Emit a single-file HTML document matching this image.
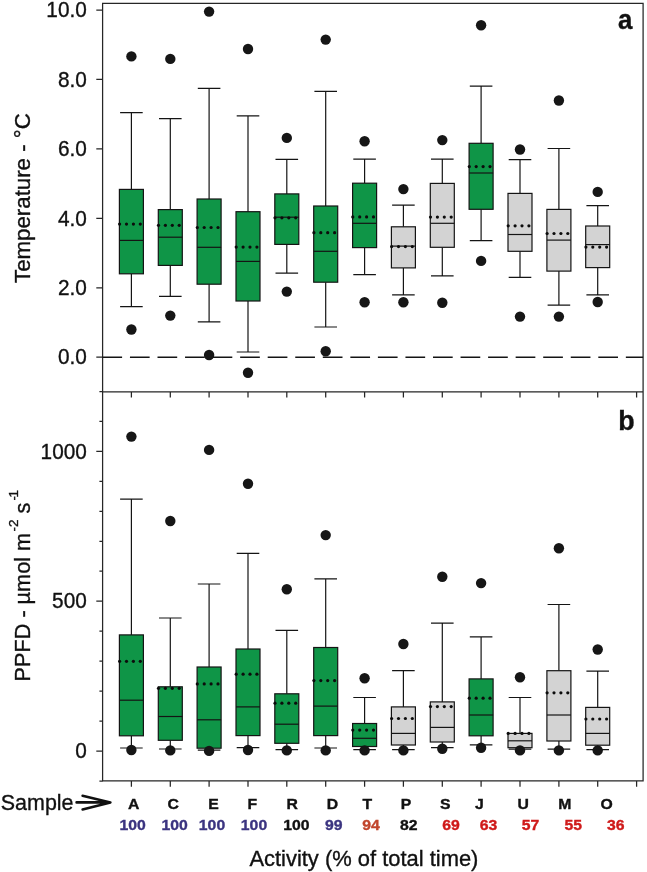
<!DOCTYPE html>
<html><head><meta charset="utf-8"><title>Figure</title>
<style>html,body{margin:0;padding:0;background:#fff}svg{display:block}text{font-family:"Liberation Sans",Arial,Helvetica,sans-serif}</style>
</head><body>
<div style="will-change:transform;width:647px;height:872px"><svg width="647" height="872" viewBox="0 0 647 872">
<rect width="647" height="872" fill="#fff"/>
<g>
<path d="M102.6 3.3H643.1V780.9H102.6Z M102.6 391.9H643.1" stroke="#262626" stroke-width="1.25" fill="none"/>
<path d="M131.4 391.9v5.6M131.4 780.9v5.8M170.3 391.9v5.6M170.3 780.9v5.8M209.1 391.9v5.6M209.1 780.9v5.8M248.0 391.9v5.6M248.0 780.9v5.8M286.8 391.9v5.6M286.8 780.9v5.8M325.7 391.9v5.6M325.7 780.9v5.8M364.6 391.9v5.6M364.6 780.9v5.8M403.4 391.9v5.6M403.4 780.9v5.8M442.3 391.9v5.6M442.3 780.9v5.8M481.1 391.9v5.6M481.1 780.9v5.8M520.0 391.9v5.6M520.0 780.9v5.8M558.9 391.9v5.6M558.9 780.9v5.8M597.7 391.9v5.6M597.7 780.9v5.8M636.6 391.9v5.6M636.6 780.9v5.8M102.6 10.0h-6.3M102.6 79.4h-6.3M102.6 148.9h-6.3M102.6 218.3h-6.3M102.6 287.8h-6.3M102.6 357.2h-6.3M102.6 781.0h-3.2M102.6 751.0h-6.3M102.6 721.0h-3.2M102.6 691.1h-3.2M102.6 661.1h-3.2M102.6 631.2h-3.2M102.6 601.2h-6.3M102.6 571.2h-3.2M102.6 541.3h-3.2M102.6 511.3h-3.2M102.6 481.4h-3.2M102.6 451.4h-6.3M102.6 421.4h-3.2M102.6 391.5h-3.2" stroke="#262626" stroke-width="1.25" fill="none"/>
<path d="M102.39999999999999 357.2H643.1" stroke="#141414" stroke-width="1.45" stroke-dasharray="19.7 7.85" fill="none"/>
<path d="M76.6 802.4H109.5M82.6 795.7L110.4 802.4L82.6 809.5" stroke="#111" stroke-width="2.6" stroke-linecap="round" stroke-linejoin="round" fill="none"/>
</g>
<g>
<path d="M120.1 112.6H142.7M131.4 112.6V189.4M131.4 273.8V306.7M120.1 306.7H142.7" stroke="#141414" stroke-width="1.2" fill="none"/>
<rect x="119.4" y="189.4" width="24.0" height="84.4" fill="#0f9547" stroke="#141414" stroke-width="1.2"/>
<path d="M119.4 240.4H143.4" stroke="#141414" stroke-width="1.2"/>
<circle cx="119.6" cy="224.1" r="1.6" fill="#0c0c0c"/>
<circle cx="126.5" cy="224.1" r="1.6" fill="#0c0c0c"/>
<circle cx="133.4" cy="224.1" r="1.6" fill="#0c0c0c"/>
<circle cx="140.3" cy="224.1" r="1.6" fill="#0c0c0c"/>
<circle cx="131.4" cy="56.4" r="5.2" fill="#161616"/>
<circle cx="131.4" cy="329.5" r="5.2" fill="#161616"/>
<path d="M120.1 499.2H142.7M131.4 499.2V634.9M131.4 735.8V748.0M120.1 748.0H142.7" stroke="#141414" stroke-width="1.2" fill="none"/>
<rect x="119.4" y="634.9" width="24.0" height="100.9" fill="#0f9547" stroke="#141414" stroke-width="1.2"/>
<path d="M119.4 700.2H143.4" stroke="#141414" stroke-width="1.2"/>
<circle cx="119.6" cy="661.3" r="1.6" fill="#0c0c0c"/>
<circle cx="126.5" cy="661.3" r="1.6" fill="#0c0c0c"/>
<circle cx="133.4" cy="661.3" r="1.6" fill="#0c0c0c"/>
<circle cx="140.3" cy="661.3" r="1.6" fill="#0c0c0c"/>
<circle cx="131.4" cy="436.6" r="5.2" fill="#161616"/>
<circle cx="131.4" cy="750.0" r="5.2" fill="#161616"/>
<path d="M159.0 118.6H181.6M170.3 118.6V209.6M170.3 265.4V296.3M159.0 296.3H181.6" stroke="#141414" stroke-width="1.2" fill="none"/>
<rect x="158.3" y="209.6" width="24.0" height="55.8" fill="#0f9547" stroke="#141414" stroke-width="1.2"/>
<path d="M158.3 237.2H182.3" stroke="#141414" stroke-width="1.2"/>
<circle cx="158.5" cy="225.3" r="1.6" fill="#0c0c0c"/>
<circle cx="165.4" cy="225.3" r="1.6" fill="#0c0c0c"/>
<circle cx="172.3" cy="225.3" r="1.6" fill="#0c0c0c"/>
<circle cx="179.2" cy="225.3" r="1.6" fill="#0c0c0c"/>
<circle cx="170.3" cy="58.9" r="5.2" fill="#161616"/>
<circle cx="170.3" cy="315.6" r="5.2" fill="#161616"/>
<path d="M159.0 618.0H181.6M170.3 618.0V686.8M170.3 740.3V749.0M159.0 749.0H181.6" stroke="#141414" stroke-width="1.2" fill="none"/>
<rect x="158.3" y="686.8" width="24.0" height="53.5" fill="#0f9547" stroke="#141414" stroke-width="1.2"/>
<path d="M158.3 716.5H182.3" stroke="#141414" stroke-width="1.2"/>
<circle cx="158.5" cy="688.3" r="1.6" fill="#0c0c0c"/>
<circle cx="165.4" cy="688.3" r="1.6" fill="#0c0c0c"/>
<circle cx="172.3" cy="688.3" r="1.6" fill="#0c0c0c"/>
<circle cx="179.2" cy="688.3" r="1.6" fill="#0c0c0c"/>
<circle cx="170.3" cy="521.0" r="5.2" fill="#161616"/>
<circle cx="170.3" cy="750.4" r="5.2" fill="#161616"/>
<path d="M197.8 88.4H220.4M209.1 88.4V199.0M209.1 284.2V321.8M197.8 321.8H220.4" stroke="#141414" stroke-width="1.2" fill="none"/>
<rect x="197.1" y="199.0" width="24.0" height="85.2" fill="#0f9547" stroke="#141414" stroke-width="1.2"/>
<path d="M197.1 247.3H221.1" stroke="#141414" stroke-width="1.2"/>
<circle cx="197.3" cy="227.5" r="1.6" fill="#0c0c0c"/>
<circle cx="204.2" cy="227.5" r="1.6" fill="#0c0c0c"/>
<circle cx="211.1" cy="227.5" r="1.6" fill="#0c0c0c"/>
<circle cx="218.0" cy="227.5" r="1.6" fill="#0c0c0c"/>
<circle cx="209.1" cy="11.6" r="5.2" fill="#161616"/>
<circle cx="209.1" cy="355.0" r="5.2" fill="#161616"/>
<path d="M197.8 584.0H220.4M209.1 584.0V667.0M209.1 748.2V750.2M197.8 750.2H220.4" stroke="#141414" stroke-width="1.2" fill="none"/>
<rect x="197.1" y="667.0" width="24.0" height="81.2" fill="#0f9547" stroke="#141414" stroke-width="1.2"/>
<path d="M197.1 719.8H221.1" stroke="#141414" stroke-width="1.2"/>
<circle cx="197.3" cy="683.9" r="1.6" fill="#0c0c0c"/>
<circle cx="204.2" cy="683.9" r="1.6" fill="#0c0c0c"/>
<circle cx="211.1" cy="683.9" r="1.6" fill="#0c0c0c"/>
<circle cx="218.0" cy="683.9" r="1.6" fill="#0c0c0c"/>
<circle cx="209.1" cy="449.9" r="5.2" fill="#161616"/>
<circle cx="209.1" cy="750.9" r="5.2" fill="#161616"/>
<path d="M236.7 115.8H259.3M248.0 115.8V211.7M248.0 301.0V352.0M236.7 352.0H259.3" stroke="#141414" stroke-width="1.2" fill="none"/>
<rect x="236.0" y="211.7" width="24.0" height="89.3" fill="#0f9547" stroke="#141414" stroke-width="1.2"/>
<path d="M236.0 261.4H260.0" stroke="#141414" stroke-width="1.2"/>
<circle cx="236.2" cy="247.1" r="1.6" fill="#0c0c0c"/>
<circle cx="243.1" cy="247.1" r="1.6" fill="#0c0c0c"/>
<circle cx="250.0" cy="247.1" r="1.6" fill="#0c0c0c"/>
<circle cx="256.9" cy="247.1" r="1.6" fill="#0c0c0c"/>
<circle cx="248.0" cy="49.0" r="5.2" fill="#161616"/>
<circle cx="248.0" cy="372.8" r="5.2" fill="#161616"/>
<path d="M236.7 553.4H259.3M248.0 553.4V649.0M248.0 735.6V747.7M236.7 747.7H259.3" stroke="#141414" stroke-width="1.2" fill="none"/>
<rect x="236.0" y="649.0" width="24.0" height="86.6" fill="#0f9547" stroke="#141414" stroke-width="1.2"/>
<path d="M236.0 706.9H260.0" stroke="#141414" stroke-width="1.2"/>
<circle cx="236.2" cy="674.2" r="1.6" fill="#0c0c0c"/>
<circle cx="243.1" cy="674.2" r="1.6" fill="#0c0c0c"/>
<circle cx="250.0" cy="674.2" r="1.6" fill="#0c0c0c"/>
<circle cx="256.9" cy="674.2" r="1.6" fill="#0c0c0c"/>
<circle cx="248.0" cy="483.8" r="5.2" fill="#161616"/>
<circle cx="248.0" cy="750.0" r="5.2" fill="#161616"/>
<path d="M275.5 159.4H298.1M286.8 159.4V193.9M286.8 244.4V273.1M275.5 273.1H298.1" stroke="#141414" stroke-width="1.2" fill="none"/>
<rect x="274.8" y="193.9" width="24.0" height="50.5" fill="#0f9547" stroke="#141414" stroke-width="1.2"/>
<path d="M274.8 217.2H298.8" stroke="#141414" stroke-width="1.2"/>
<circle cx="275.0" cy="217.8" r="1.6" fill="#0c0c0c"/>
<circle cx="281.9" cy="217.8" r="1.6" fill="#0c0c0c"/>
<circle cx="288.8" cy="217.8" r="1.6" fill="#0c0c0c"/>
<circle cx="295.7" cy="217.8" r="1.6" fill="#0c0c0c"/>
<circle cx="286.8" cy="137.9" r="5.2" fill="#161616"/>
<circle cx="286.8" cy="291.6" r="5.2" fill="#161616"/>
<path d="M275.5 630.4H298.1M286.8 630.4V693.8M286.8 743.3V749.7M275.5 749.7H298.1" stroke="#141414" stroke-width="1.2" fill="none"/>
<rect x="274.8" y="693.8" width="24.0" height="49.5" fill="#0f9547" stroke="#141414" stroke-width="1.2"/>
<path d="M274.8 724.2H298.8" stroke="#141414" stroke-width="1.2"/>
<circle cx="275.0" cy="703.2" r="1.6" fill="#0c0c0c"/>
<circle cx="281.9" cy="703.2" r="1.6" fill="#0c0c0c"/>
<circle cx="288.8" cy="703.2" r="1.6" fill="#0c0c0c"/>
<circle cx="295.7" cy="703.2" r="1.6" fill="#0c0c0c"/>
<circle cx="286.8" cy="589.2" r="5.2" fill="#161616"/>
<circle cx="286.8" cy="750.4" r="5.2" fill="#161616"/>
<path d="M314.4 91.3H337.0M325.7 91.3V206.0M325.7 282.2V327.0M314.4 327.0H337.0" stroke="#141414" stroke-width="1.2" fill="none"/>
<rect x="313.7" y="206.0" width="24.0" height="76.2" fill="#0f9547" stroke="#141414" stroke-width="1.2"/>
<path d="M313.7 251.3H337.7" stroke="#141414" stroke-width="1.2"/>
<circle cx="313.9" cy="232.7" r="1.6" fill="#0c0c0c"/>
<circle cx="320.8" cy="232.7" r="1.6" fill="#0c0c0c"/>
<circle cx="327.7" cy="232.7" r="1.6" fill="#0c0c0c"/>
<circle cx="334.6" cy="232.7" r="1.6" fill="#0c0c0c"/>
<circle cx="325.7" cy="39.6" r="5.2" fill="#161616"/>
<circle cx="325.7" cy="351.3" r="5.2" fill="#161616"/>
<path d="M314.4 578.9H337.0M325.7 578.9V647.5M325.7 735.6V748.0M314.4 748.0H337.0" stroke="#141414" stroke-width="1.2" fill="none"/>
<rect x="313.7" y="647.5" width="24.0" height="88.1" fill="#0f9547" stroke="#141414" stroke-width="1.2"/>
<path d="M313.7 706.1H337.7" stroke="#141414" stroke-width="1.2"/>
<circle cx="313.9" cy="680.6" r="1.6" fill="#0c0c0c"/>
<circle cx="320.8" cy="680.6" r="1.6" fill="#0c0c0c"/>
<circle cx="327.7" cy="680.6" r="1.6" fill="#0c0c0c"/>
<circle cx="334.6" cy="680.6" r="1.6" fill="#0c0c0c"/>
<circle cx="325.7" cy="535.1" r="5.2" fill="#161616"/>
<circle cx="325.7" cy="750.4" r="5.2" fill="#161616"/>
<path d="M353.3 159.2H375.9M364.6 159.2V183.2M364.6 247.6V274.6M353.3 274.6H375.9" stroke="#141414" stroke-width="1.2" fill="none"/>
<rect x="352.6" y="183.2" width="24.0" height="64.4" fill="#0f9547" stroke="#141414" stroke-width="1.2"/>
<path d="M352.6 223.3H376.6" stroke="#141414" stroke-width="1.2"/>
<circle cx="352.8" cy="216.9" r="1.6" fill="#0c0c0c"/>
<circle cx="359.7" cy="216.9" r="1.6" fill="#0c0c0c"/>
<circle cx="366.6" cy="216.9" r="1.6" fill="#0c0c0c"/>
<circle cx="373.5" cy="216.9" r="1.6" fill="#0c0c0c"/>
<circle cx="364.6" cy="141.3" r="5.2" fill="#161616"/>
<circle cx="364.6" cy="302.3" r="5.2" fill="#161616"/>
<path d="M353.3 697.5H375.9M364.6 697.5V723.5M364.6 746.5V749.7M353.3 749.7H375.9" stroke="#141414" stroke-width="1.2" fill="none"/>
<rect x="352.6" y="723.5" width="24.0" height="23.0" fill="#0f9547" stroke="#141414" stroke-width="1.2"/>
<path d="M352.6 738.3H376.6" stroke="#141414" stroke-width="1.2"/>
<circle cx="352.8" cy="730.1" r="1.6" fill="#0c0c0c"/>
<circle cx="359.7" cy="730.1" r="1.6" fill="#0c0c0c"/>
<circle cx="366.6" cy="730.1" r="1.6" fill="#0c0c0c"/>
<circle cx="373.5" cy="730.1" r="1.6" fill="#0c0c0c"/>
<circle cx="364.6" cy="678.2" r="5.2" fill="#161616"/>
<circle cx="364.6" cy="750.4" r="5.2" fill="#161616"/>
<path d="M392.1 205.2H414.7M403.4 205.2V226.8M403.4 267.9V294.9M392.1 294.9H414.7" stroke="#141414" stroke-width="1.2" fill="none"/>
<rect x="391.4" y="226.8" width="24.0" height="41.1" fill="#d3d3d3" stroke="#141414" stroke-width="1.2"/>
<path d="M391.4 246.1H415.4" stroke="#141414" stroke-width="1.2"/>
<circle cx="391.6" cy="246.6" r="1.6" fill="#0c0c0c"/>
<circle cx="398.5" cy="246.6" r="1.6" fill="#0c0c0c"/>
<circle cx="405.4" cy="246.6" r="1.6" fill="#0c0c0c"/>
<circle cx="412.3" cy="246.6" r="1.6" fill="#0c0c0c"/>
<circle cx="403.4" cy="189.1" r="5.2" fill="#161616"/>
<circle cx="403.4" cy="302.3" r="5.2" fill="#161616"/>
<path d="M392.1 670.7H414.7M403.4 670.7V706.9M403.4 745.0V749.7M392.1 749.7H414.7" stroke="#141414" stroke-width="1.2" fill="none"/>
<rect x="391.4" y="706.9" width="24.0" height="38.1" fill="#d3d3d3" stroke="#141414" stroke-width="1.2"/>
<path d="M391.4 733.4H415.4" stroke="#141414" stroke-width="1.2"/>
<circle cx="391.6" cy="718.5" r="1.6" fill="#0c0c0c"/>
<circle cx="398.5" cy="718.5" r="1.6" fill="#0c0c0c"/>
<circle cx="405.4" cy="718.5" r="1.6" fill="#0c0c0c"/>
<circle cx="412.3" cy="718.5" r="1.6" fill="#0c0c0c"/>
<circle cx="403.4" cy="644.0" r="5.2" fill="#161616"/>
<circle cx="403.4" cy="750.4" r="5.2" fill="#161616"/>
<path d="M431.0 159.2H453.6M442.3 159.2V183.4M442.3 247.3V275.8M431.0 275.8H453.6" stroke="#141414" stroke-width="1.2" fill="none"/>
<rect x="430.3" y="183.4" width="24.0" height="63.9" fill="#d3d3d3" stroke="#141414" stroke-width="1.2"/>
<path d="M430.3 223.3H454.3" stroke="#141414" stroke-width="1.2"/>
<circle cx="430.5" cy="217.1" r="1.6" fill="#0c0c0c"/>
<circle cx="437.4" cy="217.1" r="1.6" fill="#0c0c0c"/>
<circle cx="444.3" cy="217.1" r="1.6" fill="#0c0c0c"/>
<circle cx="451.2" cy="217.1" r="1.6" fill="#0c0c0c"/>
<circle cx="442.3" cy="140.1" r="5.2" fill="#161616"/>
<circle cx="442.3" cy="302.8" r="5.2" fill="#161616"/>
<path d="M431.0 623.2H453.6M442.3 623.2V701.9M442.3 742.0V747.7M431.0 747.7H453.6" stroke="#141414" stroke-width="1.2" fill="none"/>
<rect x="430.3" y="701.9" width="24.0" height="40.1" fill="#d3d3d3" stroke="#141414" stroke-width="1.2"/>
<path d="M430.3 727.4H454.3" stroke="#141414" stroke-width="1.2"/>
<circle cx="430.5" cy="706.6" r="1.6" fill="#0c0c0c"/>
<circle cx="437.4" cy="706.6" r="1.6" fill="#0c0c0c"/>
<circle cx="444.3" cy="706.6" r="1.6" fill="#0c0c0c"/>
<circle cx="451.2" cy="706.6" r="1.6" fill="#0c0c0c"/>
<circle cx="442.3" cy="576.7" r="5.2" fill="#161616"/>
<circle cx="442.3" cy="748.7" r="5.2" fill="#161616"/>
<path d="M469.8 86.1H492.4M481.1 86.1V143.3M481.1 209.3V240.7M469.8 240.7H492.4" stroke="#141414" stroke-width="1.2" fill="none"/>
<rect x="469.1" y="143.3" width="24.0" height="66.0" fill="#0f9547" stroke="#141414" stroke-width="1.2"/>
<path d="M469.1 173.0H493.1" stroke="#141414" stroke-width="1.2"/>
<circle cx="469.3" cy="166.6" r="1.6" fill="#0c0c0c"/>
<circle cx="476.2" cy="166.6" r="1.6" fill="#0c0c0c"/>
<circle cx="483.1" cy="166.6" r="1.6" fill="#0c0c0c"/>
<circle cx="490.0" cy="166.6" r="1.6" fill="#0c0c0c"/>
<circle cx="481.1" cy="25.2" r="5.2" fill="#161616"/>
<circle cx="481.1" cy="260.9" r="5.2" fill="#161616"/>
<path d="M469.8 636.8H492.4M481.1 636.8V678.9M481.1 735.8V744.8M469.8 744.8H492.4" stroke="#141414" stroke-width="1.2" fill="none"/>
<rect x="469.1" y="678.9" width="24.0" height="56.9" fill="#0f9547" stroke="#141414" stroke-width="1.2"/>
<path d="M469.1 715.0H493.1" stroke="#141414" stroke-width="1.2"/>
<circle cx="469.3" cy="698.2" r="1.6" fill="#0c0c0c"/>
<circle cx="476.2" cy="698.2" r="1.6" fill="#0c0c0c"/>
<circle cx="483.1" cy="698.2" r="1.6" fill="#0c0c0c"/>
<circle cx="490.0" cy="698.2" r="1.6" fill="#0c0c0c"/>
<circle cx="481.1" cy="583.1" r="5.2" fill="#161616"/>
<circle cx="481.1" cy="747.7" r="5.2" fill="#161616"/>
<path d="M508.7 159.7H531.3M520.0 159.7V193.4M520.0 251.3V277.3M508.7 277.3H531.3" stroke="#141414" stroke-width="1.2" fill="none"/>
<rect x="508.0" y="193.4" width="24.0" height="57.9" fill="#d3d3d3" stroke="#141414" stroke-width="1.2"/>
<path d="M508.0 234.5H532.0" stroke="#141414" stroke-width="1.2"/>
<circle cx="508.2" cy="225.8" r="1.6" fill="#0c0c0c"/>
<circle cx="515.1" cy="225.8" r="1.6" fill="#0c0c0c"/>
<circle cx="522.0" cy="225.8" r="1.6" fill="#0c0c0c"/>
<circle cx="528.9" cy="225.8" r="1.6" fill="#0c0c0c"/>
<circle cx="520.0" cy="149.5" r="5.2" fill="#161616"/>
<circle cx="520.0" cy="316.6" r="5.2" fill="#161616"/>
<path d="M508.7 697.5H531.3M520.0 697.5V733.4M520.0 747.7V749.2M508.7 749.2H531.3" stroke="#141414" stroke-width="1.2" fill="none"/>
<rect x="508.0" y="733.4" width="24.0" height="14.3" fill="#d3d3d3" stroke="#141414" stroke-width="1.2"/>
<path d="M508.0 740.8H532.0" stroke="#141414" stroke-width="1.2"/>
<circle cx="508.2" cy="733.4" r="1.6" fill="#0c0c0c"/>
<circle cx="515.1" cy="733.4" r="1.6" fill="#0c0c0c"/>
<circle cx="522.0" cy="733.4" r="1.6" fill="#0c0c0c"/>
<circle cx="528.9" cy="733.4" r="1.6" fill="#0c0c0c"/>
<circle cx="520.0" cy="677.2" r="5.2" fill="#161616"/>
<circle cx="520.0" cy="750.4" r="5.2" fill="#161616"/>
<path d="M547.6 148.5H570.2M558.9 148.5V209.4M558.9 271.1V305.2M547.6 305.2H570.2" stroke="#141414" stroke-width="1.2" fill="none"/>
<rect x="546.9" y="209.4" width="24.0" height="61.7" fill="#d3d3d3" stroke="#141414" stroke-width="1.2"/>
<path d="M546.9 240.1H570.9" stroke="#141414" stroke-width="1.2"/>
<circle cx="547.1" cy="233.5" r="1.6" fill="#0c0c0c"/>
<circle cx="554.0" cy="233.5" r="1.6" fill="#0c0c0c"/>
<circle cx="560.9" cy="233.5" r="1.6" fill="#0c0c0c"/>
<circle cx="567.8" cy="233.5" r="1.6" fill="#0c0c0c"/>
<circle cx="558.9" cy="100.5" r="5.2" fill="#161616"/>
<circle cx="558.9" cy="316.6" r="5.2" fill="#161616"/>
<path d="M547.6 604.5H570.2M558.9 604.5V670.7M558.9 741.0V749.2M547.6 749.2H570.2" stroke="#141414" stroke-width="1.2" fill="none"/>
<rect x="546.9" y="670.7" width="24.0" height="70.3" fill="#d3d3d3" stroke="#141414" stroke-width="1.2"/>
<path d="M546.9 715.0H570.9" stroke="#141414" stroke-width="1.2"/>
<circle cx="547.1" cy="692.8" r="1.6" fill="#0c0c0c"/>
<circle cx="554.0" cy="692.8" r="1.6" fill="#0c0c0c"/>
<circle cx="560.9" cy="692.8" r="1.6" fill="#0c0c0c"/>
<circle cx="567.8" cy="692.8" r="1.6" fill="#0c0c0c"/>
<circle cx="558.9" cy="548.2" r="5.2" fill="#161616"/>
<circle cx="558.9" cy="750.4" r="5.2" fill="#161616"/>
<path d="M586.4 205.7H609.0M597.7 205.7V226.0M597.7 267.6V294.9M586.4 294.9H609.0" stroke="#141414" stroke-width="1.2" fill="none"/>
<rect x="585.7" y="226.0" width="24.0" height="41.6" fill="#d3d3d3" stroke="#141414" stroke-width="1.2"/>
<path d="M585.7 244.6H609.7" stroke="#141414" stroke-width="1.2"/>
<circle cx="585.9" cy="247.1" r="1.6" fill="#0c0c0c"/>
<circle cx="592.8" cy="247.1" r="1.6" fill="#0c0c0c"/>
<circle cx="599.7" cy="247.1" r="1.6" fill="#0c0c0c"/>
<circle cx="606.6" cy="247.1" r="1.6" fill="#0c0c0c"/>
<circle cx="597.7" cy="191.9" r="5.2" fill="#161616"/>
<circle cx="597.7" cy="302.0" r="5.2" fill="#161616"/>
<path d="M586.4 671.2H609.0M597.7 671.2V707.4M597.7 745.2V749.7M586.4 749.7H609.0" stroke="#141414" stroke-width="1.2" fill="none"/>
<rect x="585.7" y="707.4" width="24.0" height="37.8" fill="#d3d3d3" stroke="#141414" stroke-width="1.2"/>
<path d="M585.7 733.4H609.7" stroke="#141414" stroke-width="1.2"/>
<circle cx="585.9" cy="719.0" r="1.6" fill="#0c0c0c"/>
<circle cx="592.8" cy="719.0" r="1.6" fill="#0c0c0c"/>
<circle cx="599.7" cy="719.0" r="1.6" fill="#0c0c0c"/>
<circle cx="606.6" cy="719.0" r="1.6" fill="#0c0c0c"/>
<circle cx="597.7" cy="649.5" r="5.2" fill="#161616"/>
<circle cx="597.7" cy="750.4" r="5.2" fill="#161616"/>
</g>
<g fill="#111" stroke="#111" stroke-width="0.35">
<text transform="translate(86.8 17.2) scale(0.945 1)" font-size="22" text-anchor="end">10.0</text>
<text transform="translate(86.8 86.6) scale(0.945 1)" font-size="22" text-anchor="end">8.0</text>
<text transform="translate(86.8 156.1) scale(0.945 1)" font-size="22" text-anchor="end">6.0</text>
<text transform="translate(86.8 225.5) scale(0.945 1)" font-size="22" text-anchor="end">4.0</text>
<text transform="translate(86.8 295.0) scale(0.945 1)" font-size="22" text-anchor="end">2.0</text>
<text transform="translate(86.8 364.4) scale(0.945 1)" font-size="22" text-anchor="end">0.0</text>
<text transform="translate(86.8 458.6) scale(0.945 1)" font-size="22" text-anchor="end">1000</text>
<text transform="translate(86.8 608.4) scale(0.945 1)" font-size="22" text-anchor="end">500</text>
<text transform="translate(86.8 758.2) scale(0.945 1)" font-size="22" text-anchor="end">0</text>
<text transform="translate(29.8 283.0) rotate(-90) scale(1.013 1)" font-size="22">Temperature - °C</text>
<text transform="translate(29.6 681.4) rotate(-90) scale(0.985 1)" font-size="22">PPFD - µmol m<tspan dy="-11.3" dx="1.5" font-size="13.6">-2</tspan><tspan dy="11.3"> s</tspan><tspan dy="-11.3" dx="2.3" font-size="13.6">-</tspan><tspan dx="-1.6" font-size="13.6">1</tspan></text>
<text transform="translate(632.5 29.1) scale(0.95 1)" font-size="27.3" text-anchor="end" font-weight="bold">a</text>
<text transform="translate(634.6 429.5) scale(0.99 1)" font-size="27.1" text-anchor="end" font-weight="bold">b</text>
<text transform="translate(0.8 809.5) scale(0.975 1)" font-size="22">Sample</text>
<text transform="translate(249.4 865.5) scale(0.997 1)" font-size="22">Activity (% of total time)</text>
<text transform="translate(133.6 809.2) scale(1.08 1)" font-size="14.6" text-anchor="middle" font-weight="bold">A</text>
<text transform="translate(173.3 809.2) scale(1.08 1)" font-size="14.6" text-anchor="middle" font-weight="bold">C</text>
<text transform="translate(213.4 809.2) scale(1.08 1)" font-size="14.6" text-anchor="middle" font-weight="bold">E</text>
<text transform="translate(252.4 809.2) scale(1.08 1)" font-size="14.6" text-anchor="middle" font-weight="bold">F</text>
<text transform="translate(292.3 809.2) scale(1.08 1)" font-size="14.6" text-anchor="middle" font-weight="bold">R</text>
<text transform="translate(332.4 809.2) scale(1.08 1)" font-size="14.6" text-anchor="middle" font-weight="bold">D</text>
<text transform="translate(367.4 809.2) scale(1.08 1)" font-size="14.6" text-anchor="middle" font-weight="bold">T</text>
<text transform="translate(406.0 809.2) scale(1.08 1)" font-size="14.6" text-anchor="middle" font-weight="bold">P</text>
<text transform="translate(445.3 809.2) scale(1.08 1)" font-size="14.6" text-anchor="middle" font-weight="bold">S</text>
<text transform="translate(479.3 809.2) scale(1.08 1)" font-size="14.6" text-anchor="middle" font-weight="bold">J</text>
<text transform="translate(523.2 809.2) scale(1.08 1)" font-size="14.6" text-anchor="middle" font-weight="bold">U</text>
<text transform="translate(564.8 809.2) scale(1.08 1)" font-size="14.6" text-anchor="middle" font-weight="bold">M</text>
<text transform="translate(606.7 809.2) scale(1.08 1)" font-size="14.6" text-anchor="middle" font-weight="bold">O</text>
<text transform="translate(132.6 830.0) scale(1.08 1)" font-size="14.6" text-anchor="middle" font-weight="bold" fill="#3b3480" stroke="#3b3480">100</text>
<text transform="translate(174.7 830.0) scale(1.08 1)" font-size="14.6" text-anchor="middle" font-weight="bold" fill="#3b3480" stroke="#3b3480">100</text>
<text transform="translate(212.0 830.0) scale(1.08 1)" font-size="14.6" text-anchor="middle" font-weight="bold" fill="#3b3480" stroke="#3b3480">100</text>
<text transform="translate(254.0 830.0) scale(1.08 1)" font-size="14.6" text-anchor="middle" font-weight="bold" fill="#3b3480" stroke="#3b3480">100</text>
<text transform="translate(296.3 830.0) scale(1.08 1)" font-size="14.6" text-anchor="middle" font-weight="bold" fill="#111" stroke="#111">100</text>
<text transform="translate(333.7 830.0) scale(1.08 1)" font-size="14.6" text-anchor="middle" font-weight="bold" fill="#3b3480" stroke="#3b3480">99</text>
<text transform="translate(371.0 830.0) scale(1.08 1)" font-size="14.6" text-anchor="middle" font-weight="bold" fill="#c1452c" stroke="#c1452c">94</text>
<text transform="translate(408.7 830.0) scale(1.08 1)" font-size="14.6" text-anchor="middle" font-weight="bold" fill="#111" stroke="#111">82</text>
<text transform="translate(451.0 830.0) scale(1.08 1)" font-size="14.6" text-anchor="middle" font-weight="bold" fill="#cf1a1a" stroke="#cf1a1a">69</text>
<text transform="translate(488.4 830.0) scale(1.08 1)" font-size="14.6" text-anchor="middle" font-weight="bold" fill="#cf1a1a" stroke="#cf1a1a">63</text>
<text transform="translate(530.6 830.0) scale(1.08 1)" font-size="14.6" text-anchor="middle" font-weight="bold" fill="#cf1a1a" stroke="#cf1a1a">57</text>
<text transform="translate(573.2 830.0) scale(1.08 1)" font-size="14.6" text-anchor="middle" font-weight="bold" fill="#cf1a1a" stroke="#cf1a1a">55</text>
<text transform="translate(615.8 830.0) scale(1.08 1)" font-size="14.6" text-anchor="middle" font-weight="bold" fill="#cf1a1a" stroke="#cf1a1a">36</text>
</g>
</svg></div>
</body></html>
